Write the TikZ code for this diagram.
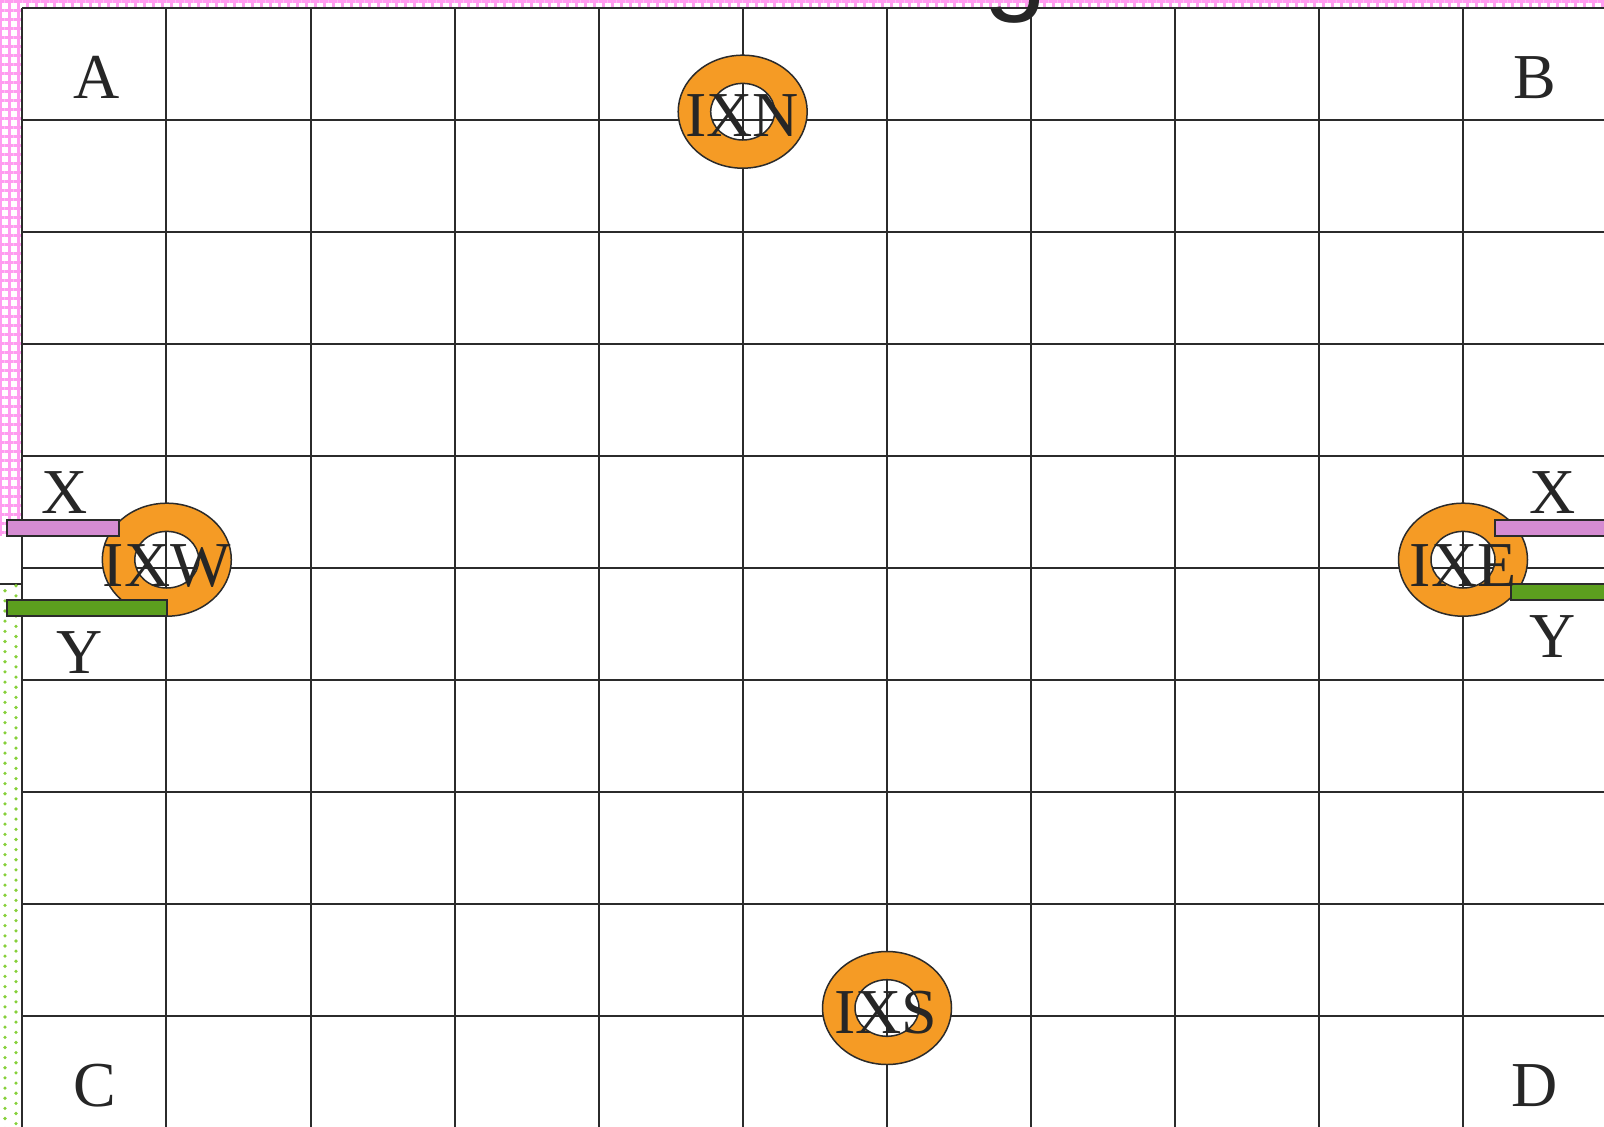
\documentclass[tikz,border=0pt]{standalone}
\usepackage{fontspec}
\setmainfont{Liberation Serif}
\newfontfamily\titlesans{Liberation Sans}
\usetikzlibrary{patterns.meta}

\definecolor{linegray}{HTML}{2B2B2B}
\definecolor{textgray}{HTML}{262626}
\definecolor{ringorange}{HTML}{F59B25}
\definecolor{pinkgrid}{HTML}{FF9CF0}
\definecolor{dotgreen}{HTML}{86D03A}
\definecolor{barpinkdark}{HTML}{D58CD2}
\definecolor{barpinklight}{HTML}{F7C8F3}
\definecolor{bargreendark}{HTML}{5C9F1E}
\definecolor{bargreenlight}{HTML}{A2DC52}

\begin{document}
\begin{tikzpicture}[x=1pt, y=-1pt,
    every node/.style={font=\fontsize{64}{70}\selectfont, text=textgray, inner sep=0pt},
    gridline/.style={draw=linegray, line width=2pt},
    ring/.style={draw=linegray, line width=1.5pt, fill=ringorange, even odd rule},
    pinkbar/.style={draw=linegray, line width=2pt, top color=barpinkdark, middle color=barpinklight, bottom color=barpinkdark},
    greenbar/.style={draw=linegray, line width=2pt, top color=bargreendark, middle color=bargreenlight, bottom color=bargreendark}]

        % Canvas
        \useasboundingbox (0,0) rectangle (1604,1127);
        \fill[white] (0,0) rectangle (1604,1127);

        % Side strips
        \fill[pattern={Hatch[angle=0, distance=9pt, line width=3pt]}, pattern color=pinkgrid] (0,0) rectangle (1604,7.5);
        \fill[pattern={Hatch[angle=0, distance=9pt, line width=3pt]}, pattern color=pinkgrid] (0,7.5) rectangle (22.3,535);
        \draw[linegray, line width=2pt] (0,584) -- (22.3,584);
        \foreach \j in {0,...,53} {
            \fill[dotgreen] (5,590.7+10.15*\j) circle (1.8);
            \fill[dotgreen] (16,585.7+10.15*\j) circle (1.8);
        }

        % Grid
        \foreach \i in {0,...,10}
            \draw[gridline] (22.3+144.1*\i,7.5) -- (22.3+144.1*\i,1127);
        \foreach \j in {0,...,10}
            \draw[gridline] (22.3,7.5+112*\j) -- (1604,7.5+112*\j);

        % Rings
        \coordinate (ixn) at (742.7,111.7);
        \coordinate (ixw) at (166.8,559.7);
        \coordinate (ixe) at (1463,559.7);
        \coordinate (ixs) at (887,1008);
        \foreach \c in {ixn,ixw,ixe,ixs}
            \path[ring] (\c) ellipse [x radius=64.5, y radius=56.5] (\c) ellipse [x radius=32, y radius=28.3];

        % Bars
        \path[pinkbar] (6.7,520) rectangle (119,535.7);
        \path[greenbar] (6.7,600) rectangle (166.7,615.7);
        \path[pinkbar] (1495,520) rectangle (1612,536);
        \path[greenbar] (1511,584) rectangle (1612,600);

        % Labels
        \node[anchor=base] (ixnlabel) at (742,136.7) {IXN};
        \node[anchor=base] (ixwlabel) at (166.7,586.7) {IXW};
        \node[anchor=base] (ixelabel) at (1463,586.7) {IXE};
        \node[anchor=base] (ixslabel) at (886,1033) {IXS};
        \node[anchor=base] (cornera) at (96.7,98) {A};
        \node[anchor=base] (cornerb) at (1534.5,98) {B};
        \node[anchor=base] (cornerc) at (95,1106) {C};
        \node[anchor=base] (cornerd) at (1534.5,1106) {D};
        \node[anchor=base] (xwest) at (65,513) {X};
        \node[anchor=base] (ywest) at (80,673) {Y};
        \node[anchor=base] (xeast) at (1553,513) {X};
        \node[anchor=base] (yeast) at (1553,657) {Y};
        \node[font=\titlesans\fontsize{115}{120}\selectfont, anchor=base] (titleg) at (1015,-1) {g};
    \end{tikzpicture}
\end{document}
